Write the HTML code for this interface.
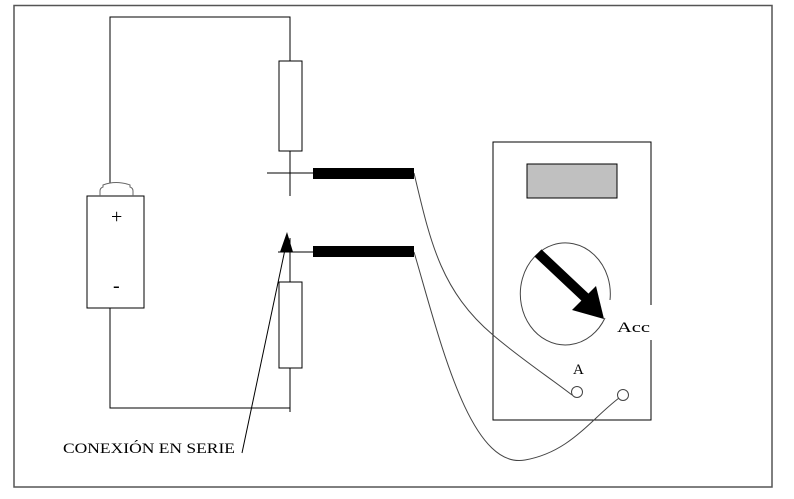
<!DOCTYPE html>
<html><head><meta charset="utf-8"><style>
html,body{margin:0;padding:0;background:#fff;}
svg{display:block;}
text{font-family:"Liberation Serif",serif;fill:#000;}
</style></head><body>
<svg width="794" height="499" viewBox="0 0 794 499" xmlns="http://www.w3.org/2000/svg">
<rect x="14" y="5.5" width="758" height="481.5" fill="none" stroke="#555" stroke-width="1.5"/>
<g fill="none" stroke="#000" stroke-width="1">
<polyline points="110,183 110,17 290,17 290,61"/>
<rect x="279" y="61" width="23" height="90"/>
<line x1="290" y1="151" x2="290" y2="196"/>
<line x1="267" y1="173" x2="313" y2="173"/>
<line x1="278" y1="252" x2="313" y2="252"/>
<line x1="290" y1="238" x2="290" y2="282"/>
<rect x="279" y="282" width="23" height="86"/>
<polyline points="290,368 290,412"/>
<polyline points="110,308 110,408 290,408"/>
<rect x="87" y="196" width="57" height="112"/>
<path d="M100,196 V191 Q100,188 103,187 V185 Q116,180 130,185 V187 Q133,188 133,191 V196" stroke="#666"/>
<line x1="242" y1="453" x2="287" y2="240"/>
<rect x="493" y="142" width="158" height="278"/>
<rect x="527" y="164" width="90" height="34" fill="#c0c0c0"/>
<path d="M610,300 A45,51 0 1 0 605,318" stroke="#444"/>
<path d="M414,173 C430,240 440,290 493,335 C520,358 550,378 572,395" stroke="#444"/>
<path d="M414,252 C440,340 470,470 525,460 C570,452 590,420 619,398" stroke="#444"/>
<circle cx="577" cy="392" r="5.5" stroke="#444"/>
<circle cx="623" cy="395" r="5.5" stroke="#444"/>
</g>
<rect x="645" y="305" width="10" height="35" fill="#fff"/>
<rect x="313" y="168" width="101" height="11" fill="#000"/>
<rect x="313" y="246" width="101" height="11" fill="#000"/>
<polygon points="280,252 287,232 293,252" fill="#000"/>
<line x1="538" y1="253" x2="588" y2="300" stroke="#000" stroke-width="10"/>
<polygon points="572,310 596,286 604,319" fill="#000"/>
<text x="111" y="223" font-size="20">+</text>
<text x="113" y="292" font-size="20" font-family="Liberation Sans">-</text>
<text x="617" y="332" font-size="15" textLength="33" lengthAdjust="spacingAndGlyphs">Acc</text>
<text x="573" y="374" font-size="15">A</text>
<text x="63" y="453" font-size="15" textLength="172" lengthAdjust="spacingAndGlyphs">CONEXIÓN EN SERIE</text>
</svg>
</body></html>
